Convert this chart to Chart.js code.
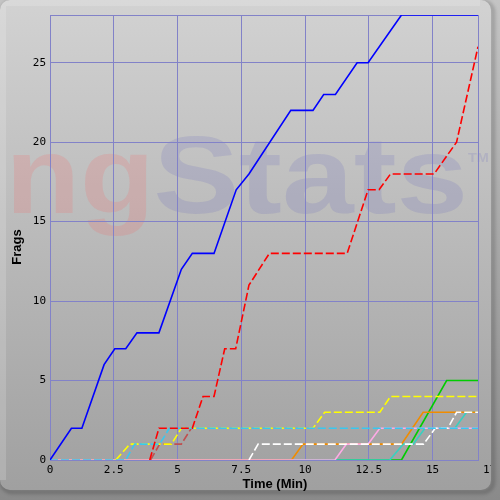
<!DOCTYPE html>
<html>
<head>
<meta charset="utf-8">
<script src="https://cdn.jsdelivr.net/npm/chart.js@4.4.1/dist/chart.umd.min.js"></script>
<style>
  html, body { margin: 0; padding: 0; background: #c4c4c4; }
  #c { display: block; }
</style>
</head>
<body>
<canvas id="c" width="500" height="500"></canvas>
<script>
// Axes
const xTicks = [0, 2.5, 5, 7.5, 10, 12.5, 15, 17.5];
const yTicks = [0, 5, 10, 15, 20, 25];
const xMax = 16.78;
const yMax = 28;

// Frags over time (minutes), one pair of arrays per player line
const blueT = [0, 0.84, 1.25, 2.12, 2.54, 2.97, 3.41, 4.27, 5.15, 5.58, 6.43, 7.3, 7.8, 9.44, 10.31, 10.73, 11.19, 12.04, 12.47, 13.78, 16.78];
const blueV = [0, 2, 2, 6, 7, 7, 8, 8, 12, 13, 13, 17, 18, 22, 22, 23, 23, 25, 25, 28, 28];

const redT = [3.91, 4.27, 5.58, 6.0, 6.43, 6.85, 7.28, 7.8, 8.6, 11.65, 12.47, 12.9, 13.35, 15.06, 15.94, 16.78];
const redV = [0, 2, 2, 4, 4, 7, 7, 11, 13, 13, 17, 17, 18, 18, 20, 26];

const yellowT = [2.58, 3.13, 4.76, 5.15, 10.31, 10.77, 12.93, 13.35, 16.78];
const yellowV = [0, 1, 1, 2, 2, 3, 3, 4, 4];

const cyanT = [0, 2.97, 3.32, 4.3, 4.68, 16.78];
const cyanV = [0, 0, 1, 1, 2, 2];

const brownT = [3.94, 4.3, 5.15, 5.54, 5.6];
const brownV = [0, 1, 1, 2, 2];

const whiteT = [7.8, 8.16, 14.65, 15.1, 15.6, 15.94, 16.78];
const whiteV = [0, 1, 1, 2, 2, 3, 3];

const pinkT = [0, 11.17, 11.62, 12.47, 12.93, 16.78];
const pinkV = [0, 0, 1, 1, 2, 2];

const orangeT = [0, 9.47, 9.92, 13.78, 14.63, 16.78];
const orangeV = [0, 0, 1, 1, 3, 3];

const tealT = [0, 13.32, 13.85, 14.24, 14.7, 15.87, 16.33, 16.78];
const tealV = [0, 0, 1, 1, 2, 2, 3, 3];

const greenT = [0, 13.78, 15.55, 16.78];
const greenV = [0, 0, 5, 5];

const gridColor = '#8282c8';
const tickFont = { family: '"DejaVu Sans Mono", monospace', size: 11 };

function pts(t, v) {
    return t.map((x, i) => ({ x: x, y: v[i] }));
}

function line(t, v, color, dashed) {
    return {
        data: pts(t, v),
        borderColor: color,
        borderWidth: 1.6,
        borderDash: dashed ? [8, 3] : [],
        pointRadius: 0,
        tension: 0,
        fill: false
    };
}

// background, watermark, frame and axis titles
const framePlugin = {
    id: 'frame',
    beforeDraw(chart) {
        const ctx = chart.ctx;
        ctx.save();
        const g = ctx.createLinearGradient(0, 0, 0, 490);
        g.addColorStop(0, 'rgb(210,210,210)');
        g.addColorStop(1, 'rgb(160,160,160)');
        ctx.fillStyle = g;
        ctx.fillRect(0, 0, 500, 500);

        // top / left highlight
        ctx.strokeStyle = 'rgba(255,255,255,0.16)';
        ctx.lineWidth = 6;
        ctx.beginPath();
        ctx.moveTo(3, 480);
        ctx.lineTo(3, 3);
        ctx.lineTo(480, 3);
        ctx.stroke();

        // watermark
        ctx.textBaseline = 'alphabetic';
        ctx.font = 'bold 110px "Liberation Sans", Arial, sans-serif';
        drawFitted(ctx, 'ng', 13.3, 146.7, 213, 'rgba(255,90,90,0.17)');
        drawFitted(ctx, 'Stats', 156.7, 463.3, 213, 'rgba(60,60,190,0.12)');
        ctx.font = 'bold 13px "Liberation Sans", Arial, sans-serif';
        drawFitted(ctx, 'TM', 468, 488, 162, 'rgba(60,60,190,0.12)');
        ctx.restore();
    },
    afterDraw(chart) {
        const ctx = chart.ctx;
        const xs = chart.scales.x;
        const area = chart.chartArea;
        ctx.save();

        // last tick label, past the end of the axis
        const last = xTicks[xTicks.length - 1];
        ctx.font = '11px "DejaVu Sans Mono", monospace';
        ctx.fillStyle = '#000';
        ctx.textAlign = 'center';
        ctx.textBaseline = 'top';
        ctx.fillText(String(last), xs.getPixelForValue(last), area.bottom + 5);

        // bevel outside the panel
        ctx.beginPath();
        ctx.rect(0, 0, 500, 500);
        ctx.roundRect(0, 0, 491, 490, 10);
        ctx.save();
        ctx.clip('evenodd');
        const og = ctx.createLinearGradient(0, 0, 0, 500);
        og.addColorStop(0, 'rgb(196,196,196)');
        og.addColorStop(1, 'rgb(138,138,138)');
        ctx.fillStyle = og;
        ctx.fillRect(0, 0, 500, 500);
        ctx.filter = 'blur(1.5px)';
        ctx.strokeStyle = 'rgba(0,0,0,0.16)';
        ctx.lineWidth = 5;
        ctx.beginPath();
        ctx.roundRect(2, 2, 491, 490, 10);
        ctx.stroke();
        ctx.restore();

        // axis titles
        ctx.fillStyle = '#000';
        ctx.font = 'bold 13px "Liberation Sans", Arial, sans-serif';
        ctx.textAlign = 'center';
        ctx.textBaseline = 'alphabetic';
        ctx.fillText('Time (Min)', 275, 488);
        ctx.translate(21, 247);
        ctx.rotate(-Math.PI / 2);
        ctx.fillText('Frags', 0, 0);
        ctx.restore();
    }
};

function drawFitted(ctx, text, left, right, base, color) {
    const m = ctx.measureText(text);
    const ink = m.actualBoundingBoxLeft + m.actualBoundingBoxRight;
    const sx = (right - left) / ink;
    ctx.save();
    ctx.translate(left + m.actualBoundingBoxLeft * sx, base);
    ctx.scale(sx, 1);
    ctx.fillStyle = color;
    ctx.textAlign = 'left';
    ctx.fillText(text, 0, 0);
    ctx.restore();
}

new Chart(document.getElementById('c'), {
    type: 'line',
    data: {
        datasets: [
            line(blueT, blueV, '#0000ff', false),
            line(redT, redV, '#ff0000', true),
            line(cyanT, cyanV, '#38c8f0', true),
            line(yellowT, yellowV, '#ffff00', true),
            line(brownT, brownV, '#c05050', true),
            line(whiteT, whiteV, '#ffffff', true),
            line(pinkT, pinkV, '#ffaae6', false),
            line(orangeT, orangeV, '#f08c00', false),
            line(tealT, tealV, '#38d0c0', false),
            line(greenT, greenV, '#00cc00', false)
        ]
    },
    options: {
        responsive: false,
        animation: false,
        devicePixelRatio: 1,
        layout: { padding: { left: 0, top: 15, right: 22, bottom: 0 } },
        plugins: { legend: { display: false }, tooltip: { enabled: false } },
        scales: {
            x: {
                type: 'linear',
                min: 0,
                max: xMax,
                afterBuildTicks: s => {
                    s.ticks = xTicks.filter(v => v <= xMax).concat([xMax]).map(v => ({ value: v }));
                },
                afterFit: s => { s.height = 40; },
                ticks: {
                    autoSkip: false,
                    maxRotation: 0,
                    padding: 4,
                    color: '#000',
                    font: tickFont,
                    callback: v => xTicks.includes(v) ? String(v) : ''
                },
                grid: { color: gridColor, lineWidth: 1, drawTicks: false },
                border: { color: gridColor }
            },
            y: {
                min: 0,
                max: yMax,
                afterBuildTicks: s => {
                    s.ticks = yTicks.concat([yMax]).map(v => ({ value: v }));
                },
                afterFit: s => { s.width = 50; },
                ticks: {
                    autoSkip: false,
                    padding: 4,
                    color: '#000',
                    font: tickFont,
                    callback: v => yTicks.includes(v) ? String(v) : ''
                },
                grid: { color: gridColor, lineWidth: 1, drawTicks: false },
                border: { color: gridColor }
            }
        }
    },
    plugins: [framePlugin]
});
</script>
</body>
</html>
